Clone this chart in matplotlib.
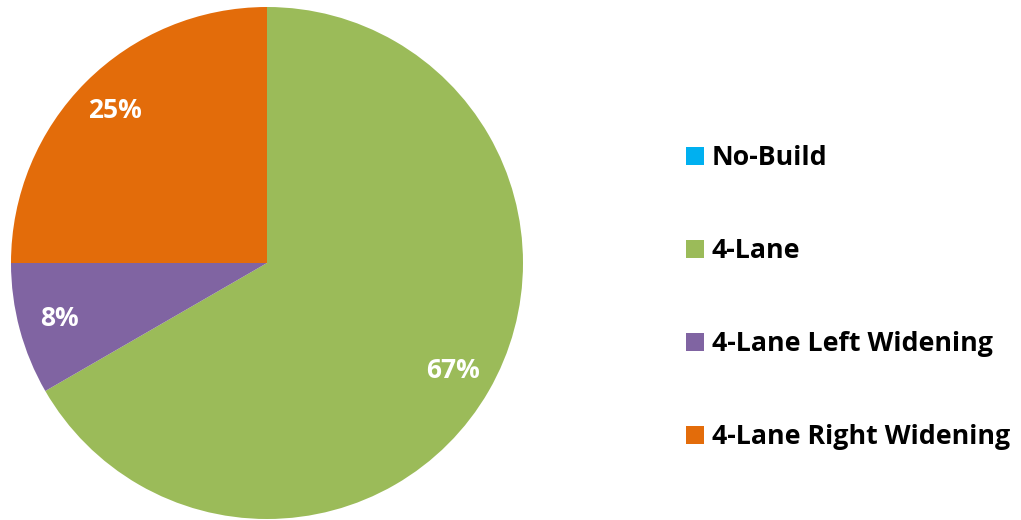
import matplotlib.pyplot as plt

# segment names, shares (count of alternatives) and colours
categories = ["No-Build", "4-Lane", "4-Lane Left Widening", "4-Lane Right Widening"]
values = [0, 8, 1, 3]
colors = ["#00B0F0", "#9BBB59", "#8064A2", "#E36C0A"]


def pct_label(p):
    # hide the label of the empty slice
    return "" if p < 0.5 else "%.0f%%" % p


fig = plt.figure(figsize=(10.21, 5.2), dpi=100)
ax = fig.add_axes([11 / 1021, 1 / 520, 512 / 1021, 512 / 520])

wedges, texts, autotexts = ax.pie(
    values,
    colors=colors,
    startangle=90,
    counterclock=False,
    autopct=pct_label,
    pctdistance=0.84,
    wedgeprops={"linewidth": 0},
    textprops={"color": "white", "fontsize": 19, "fontweight": "bold", "family": "Open Sans"},
)
ax.set_xlim(-1, 1)
ax.set_ylim(-1, 1)
ax.set_aspect("equal")

fig.legend(
    wedges,
    categories,
    loc="center left",
    bbox_to_anchor=(0.672, 0.427),
    frameon=False,
    borderpad=0,
    borderaxespad=0,
    handlelength=0.66,
    handleheight=0.66,
    handletextpad=0.3,
    labelspacing=2.5,
    prop={"family": "Open Sans", "weight": "bold", "size": 19.3},
)

fig.savefig("out.png", dpi=100)
